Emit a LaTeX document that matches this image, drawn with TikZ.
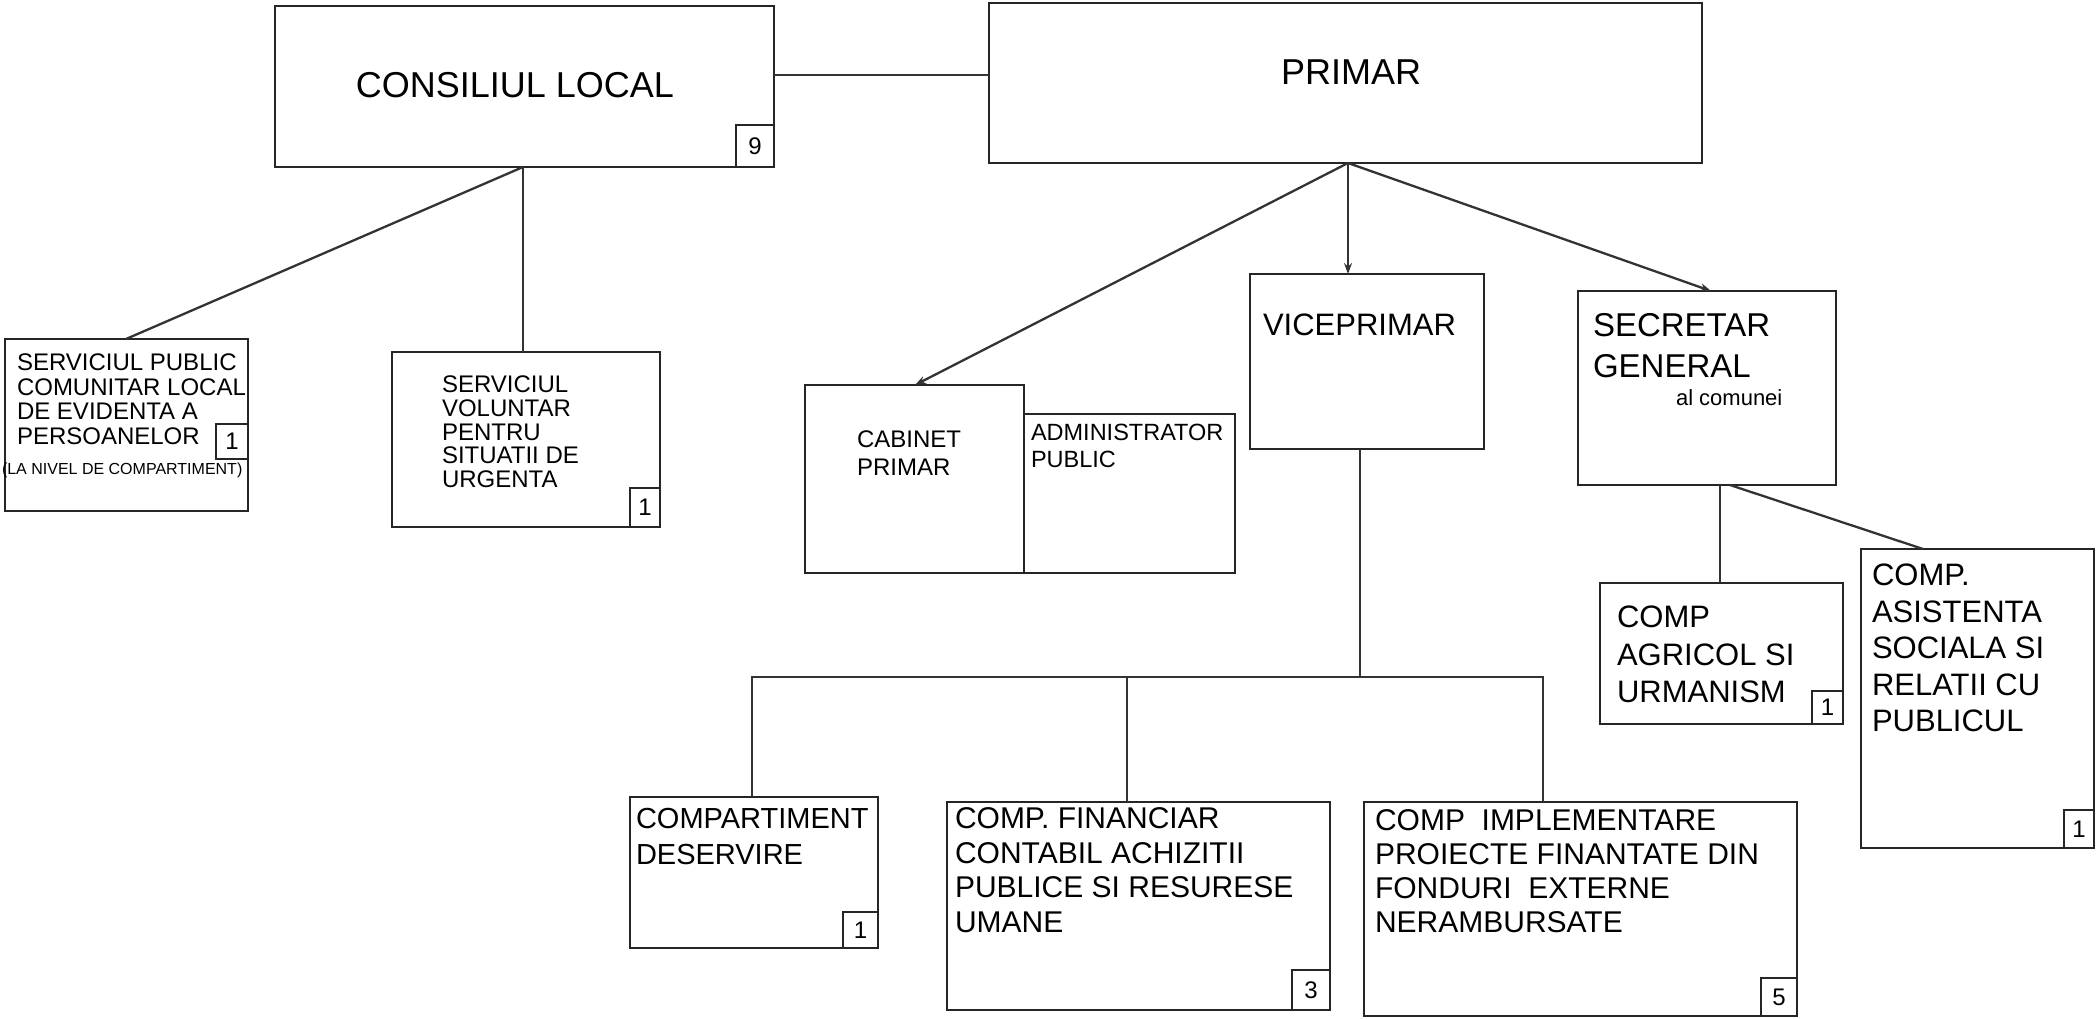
\documentclass[tikz,border=0pt]{standalone}
\usepackage{fontspec}
\setmainfont{Liberation Sans}
\usetikzlibrary{arrows.meta}
\newcommand\fsz[2]{\fontsize{#1}{#2}\selectfont}
\newcommand\mkbox[6][]{%
  \pgfmathsetmacro\mbcx{(#3+#5)/2}%
  \pgfmathsetmacro\mbcy{(#4+#6)/2}%
  \pgfmathsetmacro\mbw{#5-#3}%
  \pgfmathsetmacro\mbh{#6-#4}%
  \node[box,minimum width=\mbw pt,minimum height=\mbh pt,#1] (#2) at (\mbcx,\mbcy) {};}
\begin{document}
\begin{tikzpicture}[x=1pt,y=-1pt,
  box/.style={draw=black!85,line width=2.5pt,inner sep=0pt,outer sep=0pt,rectangle},
  numbox/.style={line width=2.2pt},
  num/.style={inner sep=0pt,font=\fsz{24}{26}},
  lbl/.style={inner sep=0pt,outer sep=0pt,anchor=center},
  ml/.style={inner sep=0pt,outer sep=0pt,align=left,anchor=north west},
  wl/.style={inner sep=0pt,outer sep=0pt,anchor=west},
  conn/.style={draw=black!80,line width=2.3pt},
  arr/.style={conn,-{Stealth[length=11pt,width=8pt]}}]
\useasboundingbox (0,0) rectangle (2097,1018);
% main boxes
\mkbox{cl}{275}{6}{774}{167}
\mkbox{pr}{989}{3}{1702}{163}
\mkbox{sp}{5}{339}{248}{511}
\mkbox{sv}{392}{352}{660}{527}
\mkbox{cab}{805}{385}{1024}{573}
\mkbox{adm}{1024}{414}{1235}{573}
\mkbox{vp}{1250}{274}{1484}{449}
\mkbox{sg}{1578}{291}{1836}{485}
\mkbox{agr}{1600}{583}{1843}{724}
\mkbox{asi}{1861}{549}{2094}{848}
\mkbox{cds}{630}{797}{878}{948}
\mkbox{fin}{947}{802}{1330}{1010}
\mkbox{imp}{1364}{802}{1797}{1016}
% number boxes
\mkbox[numbox]{b9}{736}{125}{774}{167}
\mkbox[numbox]{bsp}{216}{424}{248}{459}
\mkbox[numbox]{bsv}{630}{488}{660}{527}
\mkbox[numbox]{bagr}{1812}{691}{1843}{724}
\mkbox[numbox]{basi}{2064}{810}{2094}{848}
\mkbox[numbox]{bcds}{843}{912}{878}{948}
\mkbox[numbox]{bfin}{1292}{970}{1330}{1010}
\mkbox[numbox]{bimp}{1761}{978}{1797}{1016}
\node[num] (t9) at (b9) {9};
\node[num] (tbsp) at (bsp) {1};
\node[num] (tbsv) at (bsv) {1};
\node[num] (tbagr) at (bagr) {1};
\node[num] (tbasi) at (basi) {1};
\node[num] (tbcds) at (bcds) {1};
\node[num] (tbfin) at (bfin) {3};
\node[num] (tbimp) at (bimp) {5};
% texts
\node[lbl,font=\fsz{36}{40}] (tcl) at (515,85) {CONSILIUL LOCAL};
\node[lbl,font=\fsz{36}{40}] (tpr) at (1351,72) {PRIMAR};
\node[ml,font=\fsz{24}{24.5}] (tsp) at (17,354) {SERVICIUL PUBLIC\\COMUNITAR LOCAL\\DE EVIDENTA A\\PERSOANELOR};
\node[wl,font=\fsz{16}{18}] (tspn) at (2,470) {(LA NIVEL DE COMPARTIMENT)};
\node[ml,font=\fsz{24}{23.7}] (tsv) at (442,376) {SERVICIUL\\VOLUNTAR\\PENTRU\\SITUATII DE\\URGENTA};
\node[ml,font=\fsz{24}{28}] (tcab) at (857,431) {CABINET\\PRIMAR};
\node[ml,font=\fsz{23.5}{27}] (tadm) at (1031,424) {ADMINISTRATOR\\PUBLIC};
\node[wl,font=\fsz{31}{34}] (tvp) at (1263,325) {VICEPRIMAR};
\node[ml,font=\fsz{33}{41.5}] (tsg) at (1593,313) {SECRETAR\\GENERAL};
\node[wl,font=\fsz{22}{24}] (tsg2) at (1676,398) {al comunei};
\node[ml,font=\fsz{31}{37.5}] (tagr) at (1617,606) {COMP\\AGRICOL SI\\URMANISM};
\node[ml,font=\fsz{31}{36.5}] (tasi) at (1872,564) {COMP.\\ASISTENTA\\SOCIALA SI\\RELATII CU\\PUBLICUL};
\node[ml,font=\fsz{29}{36}] (tcds) at (636,808) {COMPARTIMENT\\DESERVIRE};
\node[ml,font=\fsz{30}{34.5}] (tfin) at (955,808) {COMP. FINANCIAR\\CONTABIL ACHIZITII\\PUBLICE SI RESURESE\\UMANE};
\node[ml,font=\fsz{30}{34}] (timp) at (1375,810) {COMP\ \ IMPLEMENTARE\\PROIECTE FINANTATE DIN\\FONDURI\ \ EXTERNE\\NERAMBURSATE};
% connection points
\coordinate (clb) at ([xshift=248pt]cl.south west);
\coordinate (prb) at ([xshift=359pt]pr.south west);
\coordinate (vpb) at ([xshift=110pt]vp.south west);
\coordinate (bus) at ([yshift=-228pt]vpb);
\coordinate (cdsT) at ([xshift=122pt]cds.north west);
\coordinate (finT) at ([xshift=180pt]fin.north west);
\coordinate (impT) at ([xshift=179pt]imp.north west);
\coordinate (sgb1) at ([xshift=142pt]sg.south west);
\coordinate (sgb2) at ([xshift=152pt]sg.south west);
% connectors
\draw[conn] ([yshift=11.5pt]cl.east) -- ([yshift=11.5pt]cl.east -| pr.west);
\draw[conn] (clb) -- (clb |- sv.north);
\draw[conn] (clb) -- ([xshift=121pt]sp.north west);
\draw[arr] (prb) -- ([xshift=110pt]cab.north west);
\draw[arr] (prb) -- (prb |- vp.north);
\draw[arr] (prb) -- ([xshift=133pt]sg.north west);
\draw[conn] (vpb) -- (bus);
\draw[conn] (cdsT) -- (cdsT |- bus) -- (impT |- bus) -- (impT);
\draw[conn] (finT) -- (finT |- bus);
\draw[conn] (sgb1) -- (sgb1 |- agr.north);
\draw[conn] (sgb2) -- ([xshift=62pt]asi.north west);
\end{tikzpicture}
\end{document}
